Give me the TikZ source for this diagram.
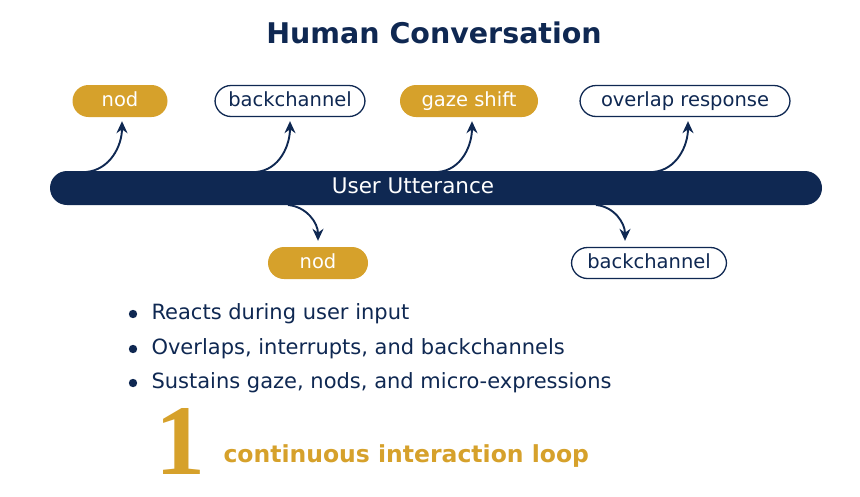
\documentclass[tikz,border=0pt]{standalone}
\usepackage{fontspec}
\setmainfont{DejaVu Sans}
\usetikzlibrary{positioning,calc,arrows.meta}
\definecolor{convNavy}{HTML}{0F2852}
\definecolor{convGold}{HTML}{D6A12B}
\tikzset{
  goldpill/.style={fill=convGold,text=white,rounded corners=16pt,minimum height=32pt,inner sep=0pt,text height=14pt,text depth=4pt,font=\fontsize{19.5}{22}\selectfont},
  whitepill/.style={draw=convNavy,line width=1.3pt,fill=white,text=convNavy,rounded corners=16pt,minimum height=31pt,inner sep=0pt,text height=14pt,text depth=4pt,font=\fontsize{19.5}{22}\selectfont},
  react/.style={-{Stealth[length=12pt,width=11pt]},draw=convNavy,line width=1.9pt},
  bulletline/.style={anchor=west,text=convNavy,font=\fontsize{21}{24}\selectfont}
}
\begin{document}
\begin{tikzpicture}[x=1pt,y=-1pt]
  \useasboundingbox (0,0) rectangle (860,496);
  % title
  \node[text=convNavy,font=\bfseries\fontsize{28.5}{34}\selectfont] (title) at (434,33) {Human Conversation};
  % utterance bar
  \node[fill=convNavy,rounded corners=17pt,minimum width=772pt,minimum height=34pt,inner sep=0pt] (bar) at (436,188) {};
  \node[text=white,text height=15pt,text depth=4pt,font=\fontsize{21.5}{24}\selectfont] (barlabel) at (413,188) {User Utterance};
  % reactions above
  \node[goldpill,minimum width=95pt] (nodA) at (120,101) {nod};
  \node[whitepill,minimum width=150pt] (backA) at (290,101) {backchannel};
  \node[goldpill,minimum width=138pt] (gaze) at (469,101) {gaze shift};
  \node[whitepill,minimum width=210pt] (overlap) at (685,101) {overlap response};
  % reactions below
  \node[goldpill,minimum width=100pt] (nodB) at (318,263) {nod};
  \node[whitepill,minimum width=155pt] (backB) at (649,263) {backchannel};
  % connectors
  \coordinate (sA) at (86,172);
  \coordinate (sB) at (256,172);
  \coordinate (sC) at (438,172);
  \coordinate (sD) at (653,172);
  \coordinate (sE) at (288,205);
  \coordinate (sF) at (596,205);
  \draw[react] (sA) to[out=5,in=-90] ([xshift=2pt,yshift=-4pt]nodA.south);
  \draw[react] (sB) to[out=5,in=-90] ([yshift=-4pt]backA.south);
  \draw[react] (sC) to[out=5,in=-90] ([xshift=3pt,yshift=-4pt]gaze.south);
  \draw[react] (sD) to[out=5,in=-90] ([xshift=3pt,yshift=-4pt]overlap.south);
  \draw[react] (sE) to[out=-5,in=90] ([yshift=6pt]nodB.north);
  \draw[react] (sF) to[out=-5,in=90] ([xshift=-24pt,yshift=6pt]backB.north);
  % summary
  \foreach \y/\txt [count=\i] in {314/Reacts during user input,349/{Overlaps, interrupts, and backchannels},383/{Sustains gaze, nods, and micro-expressions}}{
    \fill[convNavy] (133,\y) circle (4.2pt);
    \node[bulletline] (item\i) at (148,\y) {\txt};
  }
  \node[text=convGold,font=\fontspec{Liberation Serif}\bfseries\fontsize{100}{100}\selectfont,anchor=base] (count) at (180,474) {1};
  \node[text=convGold,anchor=west,font=\bfseries\fontsize{23.5}{27}\selectfont] (loop) at (220,456) {continuous interaction loop};
\end{tikzpicture}
\end{document}
